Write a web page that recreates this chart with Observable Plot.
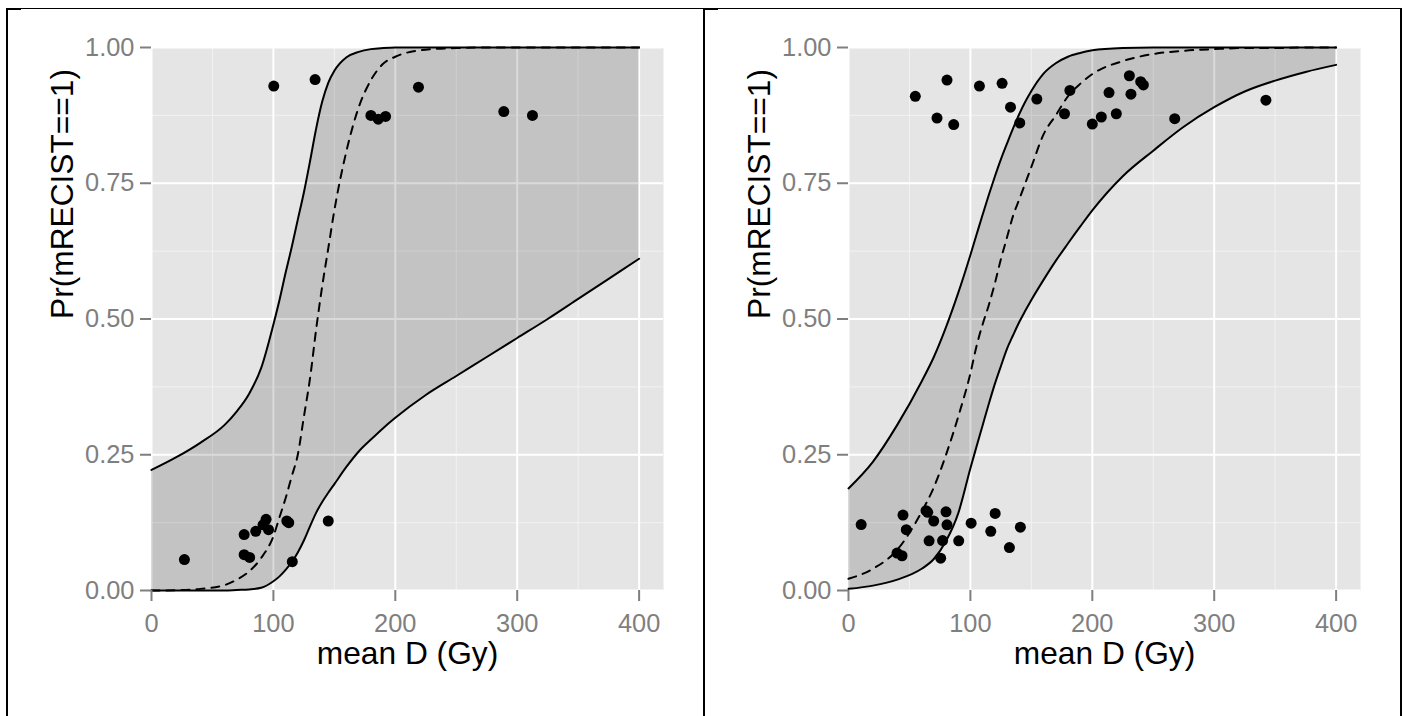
<!DOCTYPE html>
<html><head><meta charset="utf-8">
<script src="https://cdn.jsdelivr.net/npm/d3@7"></script>
<script src="https://cdn.jsdelivr.net/npm/@observablehq/plot@0.6"></script>
<style>
html,body{margin:0;padding:0;background:#fff}
body{width:1403px;height:716px;overflow:hidden;position:relative;font-family:"Liberation Sans",Arial,sans-serif}
.panel{position:absolute;top:0}
.rule{position:absolute;background:#000}
</style></head><body>
<div id="left" class="panel" style="left:0px"></div>
<div id="right" class="panel" style="left:703px"></div>
<div class="rule" style="left:6px;top:8px;width:1396px;height:1px"></div>
<div class="rule" style="left:6px;top:8px;width:15px;height:2px"></div>
<div class="rule" style="left:703px;top:8px;width:15px;height:2px"></div>
<div class="rule" style="left:6px;top:8px;width:2px;height:708px"></div>
<div class="rule" style="left:703px;top:8px;width:2px;height:708px"></div>
<div class="rule" style="left:1400px;top:8px;width:2px;height:708px"></div>
<script>
// ---- shared x grid for the curves (mean D, Gy) ----
const doseGrid = [0,20,40,60,70,80,90,100,105,110,115,120,125,130,135,140,145,150,160,170,180,190,200,225,250,275,300,325,350,375,400];

// ---- left panel ----
const leftUpper = [0.222,0.245,0.272,0.305,0.33,0.362,0.41,0.49,0.535,0.585,0.632,0.683,0.733,0.79,0.85,0.9,0.935,0.957,0.982,0.992,0.997,0.999,1,1,1,1,1,1,1,1,1];
const leftLower = [0,0,0,0,0.001,0.002,0.005,0.017,0.026,0.038,0.052,0.07,0.092,0.118,0.143,0.163,0.18,0.196,0.228,0.256,0.278,0.299,0.318,0.36,0.395,0.43,0.465,0.5,0.537,0.574,0.611];
const leftFit   = [0,0.0005,0.003,0.01,0.02,0.035,0.06,0.10,0.135,0.17,0.21,0.25,0.32,0.39,0.48,0.56,0.63,0.70,0.81,0.89,0.94,0.97,0.983,0.996,0.999,1,1,1,1,1,1];
const leftDoseObs = [27,76,76,80.5,85.5,91.5,94,96,111,112.6,115.5,145,100.3,134.2,180,186,192,219,289,312.5];
const leftRespObs = [0.057,0.103,0.066,0.061,0.109,0.121,0.131,0.112,0.128,0.125,0.053,0.128,0.929,0.941,0.875,0.868,0.873,0.927,0.882,0.875];

// ---- right panel ----
const rightUpper = [0.188,0.237,0.305,0.385,0.43,0.485,0.548,0.618,0.655,0.692,0.728,0.762,0.794,0.823,0.851,0.877,0.9,0.92,0.952,0.971,0.983,0.99,0.995,0.999,1,1,1,1,1,1,1];
const rightLower = [0.003,0.009,0.02,0.04,0.058,0.091,0.142,0.225,0.265,0.304,0.343,0.38,0.413,0.445,0.47,0.494,0.515,0.535,0.572,0.607,0.639,0.67,0.70,0.763,0.81,0.854,0.89,0.919,0.939,0.955,0.968];
const rightFit   = [0.0215,0.04,0.075,0.145,0.19,0.25,0.32,0.40,0.45,0.49,0.525,0.565,0.61,0.65,0.69,0.72,0.75,0.78,0.84,0.875,0.91,0.933,0.951,0.975,0.988,0.994,0.997,0.999,0.999,1,1];
const rightDoseObs = [54.8,80.8,72.6,86.3,107.4,126,132.9,140.5,154.5,181.6,177.2,200,207.4,213.7,219.7,230.4,231.7,239.7,241.9,267.6,342.4,
  10.4,44.7,47.4,39.8,43.9,63.6,65,69.9,66.1,80,80.8,77.2,75.6,90.4,100.6,120.3,116.7,132,141];
const rightRespObs = [0.910,0.940,0.870,0.858,0.929,0.934,0.890,0.861,0.905,0.921,0.878,0.859,0.872,0.917,0.878,0.948,0.914,0.937,0.931,0.869,0.903,
  0.1215,0.139,0.112,0.069,0.064,0.147,0.144,0.128,0.0915,0.145,0.121,0.092,0.0595,0.0915,0.124,0.142,0.109,0.079,0.1166];

// ---- axes ----
const xMajor = [0,100,200,300,400];
const xMinor = [50,150,250,350];
const yMajor = [0,0.25,0.5,0.75,1];
const yMinor = [0.125,0.375,0.625,0.875];
const xTitle = "mean D (Gy)";
const yTitle = "Pr(mRECIST==1)";

function panel({upper, lower, fit, doseObs, respObs, width, marginLeft, marginRight}) {
  const curve = doseGrid.map((d, i) => ({dose: d, lo: lower[i], hi: upper[i], fit: fit[i]}));
  const pts = doseObs.map((d, i) => ({dose: d, resp: respObs[i]}));
  const lineOpts = {x: "dose", stroke: "#000", strokeWidth: 2, curve: "monotone-x"};
  return Plot.plot({
    width, height: 716,
    marginLeft, marginRight, marginTop: 47, marginBottom: 126,
    style: {background: "transparent", fontFamily: "'Liberation Sans', Arial, sans-serif", overflow: "visible"},
    x: {domain: [0, 420]},
    y: {domain: [0, 1]},
    marks: [
      Plot.frame({fill: "#e5e5e5", stroke: null}),
      Plot.gridX(xMinor, {stroke: "#f2f2f2", strokeOpacity: 1, strokeWidth: 1}),
      Plot.gridY(yMinor, {stroke: "#f2f2f2", strokeOpacity: 1, strokeWidth: 1}),
      Plot.gridX(xMajor, {stroke: "#ffffff", strokeOpacity: 1, strokeWidth: 2}),
      Plot.gridY(yMajor, {stroke: "#ffffff", strokeOpacity: 1, strokeWidth: 2}),
      Plot.areaY(curve, {x: "dose", y1: "lo", y2: "hi", fill: "#000", fillOpacity: 0.145, curve: "monotone-x"}),
      Plot.lineY(curve, {...lineOpts, y: "hi"}),
      Plot.lineY(curve, {...lineOpts, y: "lo"}),
      Plot.lineY(curve, {...lineOpts, y: "fit", strokeDasharray: "8,7"}),
      Plot.dot(pts, {x: "dose", y: "resp", r: 5.5, fill: "#000", stroke: null}),
      Plot.axisX(xMajor, {tickSize: 11, tickPadding: 12, fontSize: 25.4, color: "#7f7f7f", strokeWidth: 2, label: null, tickFormat: d => String(d)}),
      Plot.axisY(yMajor, {tickSize: 11, tickPadding: 6, fontSize: 25.4, color: "#7f7f7f", strokeWidth: 2, label: null, tickFormat: d3.format(".2f")}),
      Plot.text([xTitle], {frameAnchor: "bottom", dy: 63, fontSize: 31.7, fill: "#000", lineAnchor: "middle"}),
      Plot.text([yTitle], {frameAnchor: "left", dx: -89, rotate: -90, fontSize: 31.7, fill: "#000", lineAnchor: "middle"})
    ]
  });
}

document.getElementById("left").append(panel({
  upper: leftUpper, lower: leftLower, fit: leftFit, doseObs: leftDoseObs, respObs: leftRespObs,
  width: 703, marginLeft: 151, marginRight: 40
}));
document.getElementById("right").append(panel({
  upper: rightUpper, lower: rightLower, fit: rightFit, doseObs: rightDoseObs, respObs: rightRespObs,
  width: 700, marginLeft: 145, marginRight: 43
}));
</script>
</body></html>
